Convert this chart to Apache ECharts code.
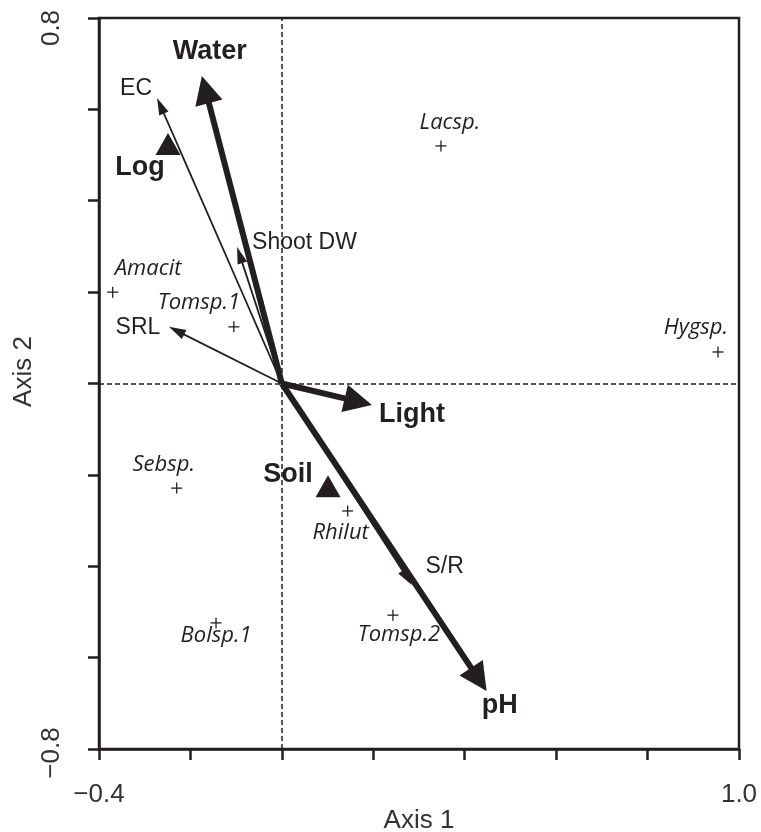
<!DOCTYPE html>
<html>
<head>
<meta charset="utf-8">
<script src="https://cdn.jsdelivr.net/npm/echarts@6/dist/echarts.min.js"></script>
<style>
html, body { margin: 0; padding: 0; background: #fff; }
#chart { width: 761px; height: 832px; }
</style>
</head>
<body>
<div id="chart"></div>
<script>
// environmental vectors (thick arrows)
var envNames = ['Water', 'Light', 'pH'];
var envX = [-0.175, 0.197, 0.448];
var envY = [0.673, -0.047, -0.673];

// plant traits (thin arrows)
var traitNames = ['EC', 'Shoot DW', 'SRL', 'S/R'];
var traitX = [-0.273, -0.098, -0.247, 0.284];
var traitY = [0.625, 0.299, 0.124, -0.441];

// nominal variables (triangles)
var factorNames = ['Log', 'Soil'];
var factorX = [-0.249, 0.101];
var factorY = [0.524, -0.225];

// species scores (+)
var speciesNames = ['Amacit', 'Tomsp.1', 'Lacsp.', 'Hygsp.', 'Sebsp.', 'Rhilut', 'Bolsp.1', 'Tomsp.2'];
var speciesX = [-0.370, -0.105, 0.348, 0.954, -0.230, 0.144, -0.144, 0.243];
var speciesY = [0.200, 0.124, 0.520, 0.069, -0.229, -0.279, -0.524, -0.507];

// tick labels shown at axis ends
var xLabelValues = [-0.4, 1.0];
var xLabelTexts = ['\u22120.4', '1.0'];
var yLabelValues = [-0.8, 0.8];
var yLabelTexts = ['\u22120.8', '0.8'];

// label placement (pixel offset from marker, alignment)
var labelPos = {
	'Water': [8, -24], 'Light': [40, 10], 'pH': [13, 15],
	'EC': [-21, -9], 'Shoot DW': [15, -4, 'left'], 'SRL': [-31, 1], 'S/R': [33, -18],
	'Log': [-28, 23], 'Soil': [-40, -12],
	'Amacit': [2, -23, 'left'], 'Tomsp.1': [-35, -24], 'Lacsp.': [9, -23], 'Hygsp.': [-22, -24],
	'Sebsp.': [-13, -23], 'Rhilut': [-7, 22], 'Bolsp.1': [0, 13], 'Tomsp.2': [6, 20]
};

var ink = '#231f20';
var sans = '"Liberation Sans", Arial, sans-serif';

function pickLabel(values, texts, v) {
	for (var i = 0; i < values.length; i++) {
		if (Math.abs(values[i] - v) < 1e-9) return texts[i];
	}
	return '';
}

function arrowRenderer(names, headLen, headW, lineW, font) {
	return function (params, api) {
		var o = api.coord([0, 0]);
		var t = api.coord([api.value(0), api.value(1)]);
		var dx = t[0] - o[0], dy = t[1] - o[1];
		var len = Math.sqrt(dx * dx + dy * dy);
		var ux = dx / len, uy = dy / len;
		var bx = t[0] - ux * headLen, by = t[1] - uy * headLen;
		var nx = -uy * headW / 2, ny = ux * headW / 2;
		var name = names[params.dataIndex];
		var lp = labelPos[name];
		return {
			type: 'group',
			children: [
				{ type: 'line', shape: { x1: o[0], y1: o[1], x2: bx + ux * 2, y2: by + uy * 2 },
				  style: { stroke: ink, lineWidth: lineW } },
				{ type: 'polygon', shape: { points: [[t[0], t[1]], [bx + nx, by + ny], [bx - nx, by - ny]] },
				  style: { fill: ink } },
				{ type: 'text', style: { text: name, x: t[0] + lp[0], y: t[1] + lp[1],
				  align: lp[2] || 'center', verticalAlign: 'middle', fill: ink, font: font } }
			]
		};
	};
}

var chart = echarts.init(document.getElementById('chart'));

var option = {
	animation: false,
	grid: {
		left: 99, right: 22, top: 18, bottom: 83,
		containLabel: false, outerBoundsMode: 'none',
		show: true, borderColor: ink, borderWidth: 2.5, backgroundColor: 'transparent'
	},
	xAxis: {
		type: 'value', min: -0.4, max: 1.0, interval: 0.2,
		name: 'Axis 1', nameLocation: 'middle', nameGap: 59, nameMoveOverlap: false,
		nameTextStyle: { fontSize: 26, fontFamily: sans, color: '#333' },
		axisLine: { show: true, onZero: false, lineStyle: { color: ink, width: 2.5 } },
		axisTick: { show: true, inside: false, length: 11, lineStyle: { color: ink, width: 2.5 } },
		splitLine: { show: false },
		axisLabel: {
			margin: 33, fontSize: 26, fontFamily: sans, color: '#333',
			showMinLabel: true, showMaxLabel: true,
			formatter: function (v) { return pickLabel(xLabelValues, xLabelTexts, v); }
		}
	},
	yAxis: {
		type: 'value', min: -0.8, max: 0.8, interval: 0.2,
		name: 'Axis 2', nameLocation: 'middle', nameGap: 62, nameMoveOverlap: false,
		nameTextStyle: { fontSize: 26, fontFamily: sans, color: '#333', padding: [0, 0, 0, 24] },
		axisLine: { show: true, onZero: false, lineStyle: { color: ink, width: 2.5 } },
		axisTick: { show: true, inside: false, length: 11, lineStyle: { color: ink, width: 2.5 } },
		splitLine: { show: false },
		axisLabel: {
			margin: 34, rotate: 90, fontSize: 26, fontFamily: sans, color: '#333',
			showMinLabel: true, showMaxLabel: true,
			formatter: function (v) {
				var s = pickLabel(yLabelValues, yLabelTexts, v);
				if (!s) return '';
				return v > 0 ? '{top|' + s + '}' : '{bot|' + s + '}';
			},
			rich: {
				top: { fontSize: 26, fontFamily: sans, color: '#333', padding: [0, 20, 0, 0] },
				bot: { fontSize: 26, fontFamily: sans, color: '#333', padding: [0, 8, 0, 0] }
			}
		}
	},
	series: [
		{
			type: 'scatter',
			symbol: 'triangle',
			symbolSize: [25, 22],
			itemStyle: { color: ink, opacity: 1 },
			data: factorNames.map(function (n, i) {
				return {
					name: n, value: [factorX[i], factorY[i]],
					label: { offset: [labelPos[n][0], labelPos[n][1]] }
				};
			}),
			label: {
				show: true, position: 'inside', formatter: '{b}',
				fontSize: 27, fontWeight: 'bold', fontFamily: sans, color: ink
			},
			markLine: {
				silent: true, symbol: ['none', 'none'],
				label: { show: false },
				lineStyle: { color: ink, width: 1.5, type: [5, 3] },
				data: [{ xAxis: 0 }, { yAxis: 0 }]
			},
			z: 3
		},
		{
			type: 'custom',
			renderItem: arrowRenderer(traitNames, 17, 10, 1.8, '23px ' + sans),
			encode: { x: 0, y: 1 },
			data: traitNames.map(function (n, i) { return [traitX[i], traitY[i]]; }),
			z: 4
		},
		{
			type: 'custom',
			renderItem: arrowRenderer(envNames, 28, 28, 6, 'bold 27px ' + sans),
			encode: { x: 0, y: 1 },
			data: envNames.map(function (n, i) { return [envX[i], envY[i]]; }),
			z: 5
		},
		{
			type: 'custom',
			renderItem: function (params, api) {
				var p = api.coord([api.value(0), api.value(1)]);
				var name = speciesNames[params.dataIndex];
				var lp = labelPos[name];
				var h = 5.5;
				return {
					type: 'group',
					children: [
						{ type: 'line', shape: { x1: p[0] - h, y1: p[1], x2: p[0] + h, y2: p[1] },
						  style: { stroke: ink, lineWidth: 1.3 } },
						{ type: 'line', shape: { x1: p[0], y1: p[1] - h, x2: p[0], y2: p[1] + h },
						  style: { stroke: ink, lineWidth: 1.3 } },
						{ type: 'text', style: { text: name, x: p[0] + lp[0], y: p[1] + lp[1],
						  align: lp[2] || 'center', verticalAlign: 'middle', fill: ink,
						  font: 'italic 22px "Open Sans", sans-serif' } }
					]
				};
			},
			encode: { x: 0, y: 1 },
			data: speciesNames.map(function (n, i) { return [speciesX[i], speciesY[i]]; }),
			z: 4
		}
	]
};

chart.setOption(option);
</script>
</body>
</html>
